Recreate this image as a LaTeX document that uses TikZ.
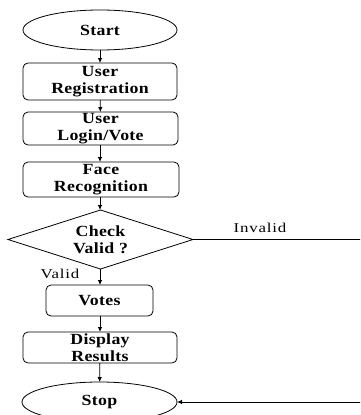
\documentclass[tikz,border=0pt]{standalone}
\usepackage{fontspec}
\setmainfont[FakeStretch=1.15,LetterSpace=2]{Liberation Serif}
\newfontfamily\lblfont[FakeStretch=1.25,LetterSpace=6]{Liberation Serif}
\usetikzlibrary{shapes.geometric,arrows.meta}
\begin{document}
\begin{tikzpicture}[x=1pt,y=-1pt,
  every node/.style={inner sep=0pt,outer sep=0pt},
  term/.style={draw,ellipse,line width=0.8pt,minimum width=154pt,minimum height=40pt,font=\fontsize{15.5}{16.5}\selectfont\bfseries},
  proc/.style={draw,rounded corners=5pt,line width=0.8pt,minimum width=154pt,align=center,font=\fontsize{15.5}{16.5}\selectfont\bfseries},
  dec/.style={draw,diamond,aspect=3.1,line width=0.8pt,minimum width=185pt,minimum height=59pt,align=center,font=\fontsize{15.5}{16.5}\selectfont\bfseries},
  lbl/.style={font=\lblfont\fontsize{13.5}{15}\selectfont},
  conn/.style={line width=0.8pt,-{Latex[length=5pt,width=4.5pt]}},
  ln/.style={line width=0.8pt}]
\useasboundingbox (0,0) rectangle (360,415);
\clip (0,0) rectangle (360,415);
\node[term] (start) at (100,30) {Start};
\node[proc,minimum height=37pt] (reg) at (100,81.5) {User\\Registration};
\node[proc,minimum height=33pt,minimum width=155pt] (login) at (100.5,128.5) {User\\Login/Vote};
\node[proc,minimum height=35pt,minimum width=156pt] (face) at (101,179.5) {Face\\Recognition};
\node[dec] (check) at (100.5,239.5) {Check\\Valid ?};
\node[proc,minimum height=31pt,minimum width=107pt] (votes) at (99.5,300.5) {Votes};
\node[proc,minimum height=31pt] (disp) at (100,347.5) {Display\\Results};
\node[term,minimum width=155pt] (stop) at (99.5,402) {Stop};
\node[lbl] (valid) at (60,274) {Valid};
\node[lbl] (invalid) at (260,228) {Invalid};
\coordinate (c1) at (362,239.5);
\coordinate (c2) at (362,402);
\draw[conn] (start) -- (reg);
\draw[conn] (reg) -- (login);
\draw[conn] (login.south -| reg) -- (face.north -| reg);
\draw[conn] (face.south -| reg) -- (check.north -| reg);
\draw[conn] (check.south -| reg) -- (votes.north -| reg);
\draw[conn] (votes.south -| reg) -- (disp.north -| reg);
\draw[conn] (disp) -- (stop);
\draw[ln] (check.east) -- (c1) -- (c2);
\draw[conn] (c2) -- (stop.east);
\end{tikzpicture}
\end{document}
